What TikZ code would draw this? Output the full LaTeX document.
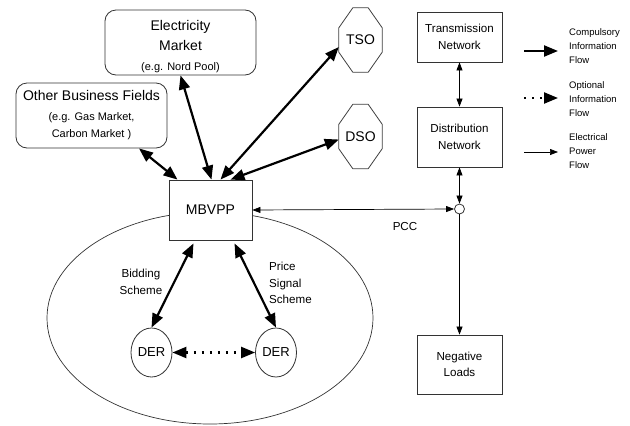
\documentclass[tikz,border=0pt]{standalone}
\usepackage{fontspec}
\setmainfont{Liberation Sans}
\usetikzlibrary{arrows.meta,shapes.geometric}

\tikzset{box/.style={draw=black!80,fill=white,line width=0.8pt,align=center,inner sep=0pt},
market/.style={box,rounded corners=11pt,minimum width=151pt,minimum height=65pt},
operator/.style={minimum width=43pt,minimum height=64pt,inner sep=0pt,font=\fontsize{14}{17}\selectfont},
octagon/.style={draw=black!75,fill=white,line width=0.8pt},
unit/.style={draw=black!80,fill=white,line width=0.8pt,ellipse,minimum width=41pt,minimum height=49pt,inner sep=0pt,font=\fontsize{13}{16}\selectfont},
bus/.style={draw=black!80,fill=white,line width=0.8pt,circle,minimum size=10pt,inner sep=0pt},
big text/.style={font=\fontsize{14}{20}\selectfont},
net text/.style={font=\fontsize{11.6}{16.5}\selectfont},
key text/.style={font=\fontsize{9.5}{13.8}\selectfont,align=left,anchor=west,inner sep=0pt},
info/.style={line width=2.2pt,{Triangle[length=14pt,width=11pt]}-{Triangle[length=14pt,width=11pt]}},
info one/.style={line width=2.2pt,-{Triangle[length=14pt,width=11pt]}},
optional/.style={info,dash pattern=on 2pt off 6pt},
optional one/.style={info one,dash pattern=on 2pt off 6pt},
power/.style={line width=0.7pt,{Triangle[length=8pt,width=6pt]}-{Triangle[length=8pt,width=6pt]}},
power one/.style={line width=0.7pt,-{Triangle[length=8pt,width=6pt]}}}
\newcommand{\egfont}{\fontsize{11}{17}\selectfont}

\begin{document}
\begin{tikzpicture}[x=1pt,y=-1pt]
\useasboundingbox (0,0) rectangle (630,426);

%% Coordinates of nodes.
\coordinate (c-emkt) at (180.5,42.5);
\coordinate (c-obf) at (91.5,115.5);
\coordinate (c-vpp) at (210.5,210);
\coordinate (c-tso) at (360.5,40);
\coordinate (c-dso) at (360.5,136.5);
\coordinate (c-trans) at (459.5,37);
\coordinate (c-dist) at (459.5,137);
\coordinate (c-pcc) at (459.5,209);
\coordinate (c-loads) at (459.5,364.5);
\coordinate (c-derl) at (151.5,352.5);
\coordinate (c-derr) at (276,352.5);

%% the VPP area
\draw[draw=black!80,line width=0.7pt] (210,318) ellipse [x radius=163, y radius=106];

%% boxes
\node [market,font=\fontsize{14}{20}\selectfont] (emkt) at (c-emkt)
  {\rule{0pt}{18pt}Electricity\\Market\\\egfont (e.g. Nord Pool)};
\node [market,font=\fontsize{14}{17}\selectfont] (obf) at (c-obf)
  {Other Business Fields\\[3pt]\egfont (e.g. Gas Market,\\\egfont Carbon Market )};
\node [box,big text,minimum width=83pt,minimum height=60pt] (vpp) at (c-vpp) {MBVPP};
\node [operator] (tso) at (c-tso) {};
\node [operator] (dso) at (c-dso) {};
\node [box,net text,minimum width=85pt,minimum height=50pt] (trans) at (c-trans) {Transmission\\Network};
\node [box,net text,minimum width=85pt,minimum height=60pt] (dist) at (c-dist) {Distribution\\Network};
\node [box,net text,minimum width=85pt,minimum height=59pt] (loads) at (c-loads) {Negative\\Loads};
\node [bus] (pcc) at (c-pcc) {};
\node [unit] (derl) at (c-derl) {DER};
\node [unit] (derr) at (c-derr) {DER};

%% octagons for the system operators
\foreach \o/\t in {tso/TSO,dso/DSO} {
  \draw [octagon] ([xshift=14pt]\o.north west) -- ([xshift=-14pt]\o.north east)
    -- ([yshift=-20pt]\o.north east) -- ([yshift=20pt]\o.south east)
    -- ([xshift=-14pt]\o.south east) -- ([xshift=14pt]\o.south west)
    -- ([yshift=20pt]\o.south west) -- ([yshift=-20pt]\o.north west) -- cycle;
  \node [operator] at (\o) {\t};
}

%% information flows
\draw [info] ([xshift=47.5pt]obf.south) -- ([xshift=-33pt]vpp.north);
\draw [info] (emkt.south) -- ([xshift=1pt]vpp.north);
\draw [info] ([xshift=10pt]vpp.north) -- ([yshift=-7pt]tso.west);
\draw [info] ([xshift=20pt]vpp.north) -- ([yshift=-3pt]dso.west);
\draw [info] ([xshift=-17pt,yshift=-3pt]vpp.south) -- (derl.north);
\draw [info] ([xshift=24pt,yshift=-3pt]vpp.south) -- (derr.north);
\draw [optional] (derl) -- (derr);

%% power flows
\draw [power] (vpp.east) -- (pcc.west);
\draw [power] (trans) -- (dist);
\draw [power] (dist) -- (pcc);
\draw [power one] (pcc) -- (loads);

%% labels
\node [net text,align=center] (bid) at (141,282) {Bidding\\Scheme};
\node [net text,align=left,anchor=west,inner sep=0pt] (price) at (269,283) {Price\\Signal\\Scheme};
\node [net text] (pcc-label) at (405,227) {PCC};

%% legend
\coordinate (k1a) at (524,51);
\coordinate (k1b) at (558,51);
\coordinate (k2a) at (524,98);
\coordinate (k2b) at (558,98);
\coordinate (k3a) at (524,152);
\coordinate (k3b) at (558,152);
\draw [info one] (k1a) -- (k1b);
\draw [optional one] (k2a) -- (k2b);
\draw [power one] (k3a) -- (k3b);
\node [key text] (key1) at (569,46) {Compulsory\\Information\\Flow};
\node [key text] (key2) at (569,99) {Optional\\Information\\Flow};
\node [key text] (key3) at (569,151) {Electrical\\Power\\Flow};

\end{tikzpicture}
\end{document}
